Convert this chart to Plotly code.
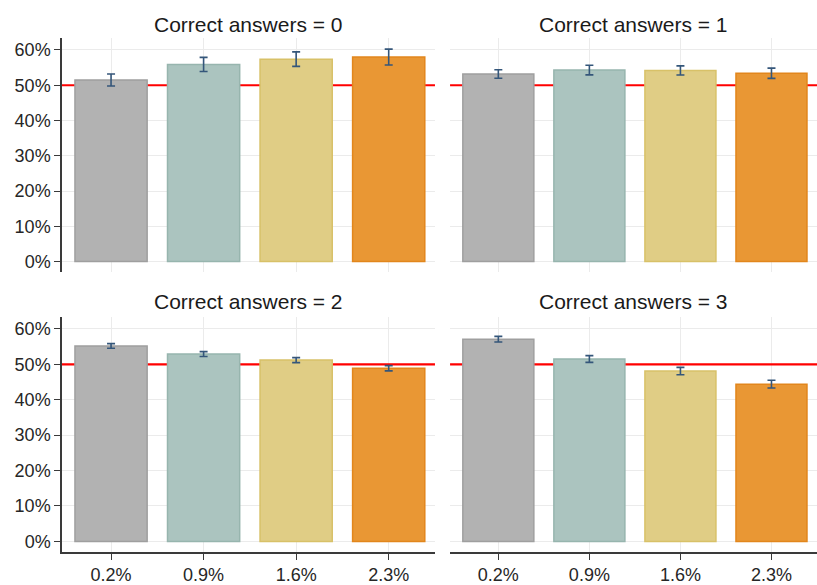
import plotly.graph_objects as go

categories = ["0.2%", "0.9%", "1.6%", "2.3%"]
panel_titles = ["Correct answers = 0", "Correct answers = 1",
                "Correct answers = 2", "Correct answers = 3"]

values_0 = [51.5, 55.9, 57.4, 58.0]
errors_0 = [1.7, 2.0, 2.05, 2.25]
values_1 = [53.2, 54.3, 54.2, 53.4]
errors_1 = [1.2, 1.35, 1.3, 1.45]
values_2 = [55.2, 52.9, 51.2, 48.9]
errors_2 = [0.65, 0.7, 0.7, 0.75]
values_3 = [57.1, 51.5, 48.1, 44.4]
errors_3 = [0.8, 0.95, 1.05, 1.1]

reference_level = 50
y_ticks = [0, 10, 20, 30, 40, 50, 60]
y_tick_labels = ["0%", "10%", "20%", "30%", "40%", "50%", "60%"]

fill_colors = ["#b2b2b2", "#abc4bf", "#e0cd85", "#e99734"]
line_colors = ["#9f9f9f", "#97b5ae", "#d8c168", "#e2861c"]

panels = [(values_0, errors_0), (values_1, errors_1),
          (values_2, errors_2), (values_3, errors_3)]

fig = go.Figure()

x_domains = [[0, 0.494], [0.514, 1.0]]
y_domains = [[0.5446, 1.0], [0.0, 0.4574]]
x_range = [-0.53, 3.5]

FONT = "Liberation Sans, Arial, sans-serif"

for i, (vals, errs) in enumerate(panels):
    row, col = divmod(i, 2)
    idx = "" if i == 0 else str(i + 1)
    xa, ya = "x" + idx, "y" + idx
    fig.add_trace(go.Bar(
        x=categories, y=vals, xaxis=xa, yaxis=ya,
        width=0.78,
        marker=dict(color=fill_colors, line=dict(color=line_colors, width=1.5)),
        error_y=dict(type="data", array=errs, visible=True,
                     color="#34567a", thickness=1.6, width=4),
        showlegend=False, hoverinfo="x+y",
    ))
    fig.update_layout({
        ("xaxis" + idx): dict(
            domain=x_domains[col], anchor=ya, type="category",
            range=x_range,
            showgrid=True, gridcolor="#ebebeb", gridwidth=1,
            showline=(row == 1), linecolor="#3a3a3a", linewidth=1.5,
            ticks="outside" if row == 1 else "", ticklen=6, tickwidth=1.2,
            tickcolor="#3a3a3a",
            showticklabels=(row == 1),
            tickfont=dict(family=FONT, size=18, color="#262626"),
            zeroline=False,
        ),
        ("yaxis" + idx): dict(
            domain=y_domains[row], anchor=xa,
            range=[-3.0, 63.4],
            tickmode="array", tickvals=y_ticks, ticktext=y_tick_labels,
            showgrid=True, gridcolor="#ebebeb", gridwidth=1,
            showline=(col == 0), linecolor="#3a3a3a", linewidth=1.5,
            ticks="outside" if col == 0 else "", ticklen=6, tickwidth=1.2,
            tickcolor="#3a3a3a",
            showticklabels=(col == 0),
            tickfont=dict(family=FONT, size=18, color="#262626"),
            zeroline=False,
        ),
    })
    fig.add_shape(type="line", xref=xa, yref=ya,
                  x0=x_range[0], x1=x_range[1],
                  y0=reference_level, y1=reference_level,
                  line=dict(color="#ff0000", width=2.2), layer="between")
    fig.add_annotation(
        text=panel_titles[i], xref="paper", yref="paper",
        x=sum(x_domains[col]) / 2,
        y=1.027 if row == 0 else 0.4864,
        xanchor="center", yanchor="middle", showarrow=False,
        font=dict(family=FONT, size=21, color="#1a1a1a"),
    )

fig.update_layout(
    width=817, height=585,
    margin=dict(l=62, r=0, t=38, b=28),
    paper_bgcolor="white", plot_bgcolor="white",
    font=dict(family=FONT),
)

fig.write_html("out.html", config={"displayModeBar": False},
               post_script="document.body.style.margin='0';")
